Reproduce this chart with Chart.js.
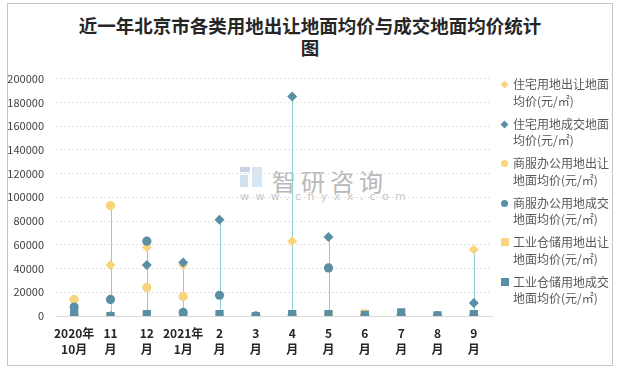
<!DOCTYPE html>
<html>
<head>
<meta charset="utf-8">
<script src="https://cdn.jsdelivr.net/npm/chart.js@4/dist/chart.umd.min.js"></script>
<style>
  body { margin: 0; background: #fff; font-family: "Noto Sans CJK SC", sans-serif; }
  #wrap { position: relative; width: 619px; height: 370px; overflow: hidden; }
  #frame { position: absolute; left: 7px; top: 3px; width: 604px; height: 361px; border: 1px solid #c4c4c4; }
  #title { position: absolute; left: 7px; width: 606px; top: 14px; text-align: center;
           font-size: 18.5px; font-weight: bold; line-height: 22px; color: #262626; }
  #mark { position: absolute; left: 240px; top: 163px; color: #b8b8b8; }
  #mark .logo { position: absolute; left: 0; top: 4px; width: 22px; height: 20px; }
  #mark .logo i { position: absolute; background: #c9d3e3; }
  #mark .big { position: absolute; left: 32px; top: 0; font-size: 24px; letter-spacing: 5px; white-space: nowrap; }
  #mark .url { position: absolute; left: 0; top: 27px; font-size: 11px; letter-spacing: 6.4px; white-space: nowrap; font-family: "DejaVu Sans", sans-serif; color: #c4c4c4; }
  #chart { position: absolute; left: 0; top: 60px; }
  #legend { position: absolute; left: 497px; top: 76px; width: 112px; }
  .item { position: relative; height: 39.6px; padding-left: 16px; font-size: 12px; line-height: 16.5px; color: #595959; }
  .item .m { position: absolute; left: 4px; top: 5px; width: 7px; height: 7px; }
</style>
</head>
<body>
<div id="wrap">
  <div id="frame"></div>
  <div id="title">近一年北京市各类用地出让地面均价与成交地面均价统计<br>图</div>
  <div id="mark">
    <div class="logo"><i style="left:0;top:0;width:10px;height:5px"></i><i style="left:0;top:8px;width:8px;height:12px;background:#cfe0ef"></i><i style="left:12px;top:0;width:10px;height:20px;background:#d6e6f2"></i></div>
    <div class="big">智研咨询</div>
    <div class="url">www.chyxx.com</div>
  </div>
  <canvas id="chart" width="500" height="300"></canvas>
  <div id="legend"></div>
</div>
<script>
const categories = [['2020年', '10月'], ['11', '月'], ['12', '月'], ['2021年', '1月'], ['2', '月'], ['3', '月'],
                    ['4', '月'], ['5', '月'], ['6', '月'], ['7', '月'], ['8', '月'], ['9', '月']];
const seriesNames = ['住宅用地出让地面均价(元/㎡)', '住宅用地成交地面均价(元/㎡)', '商服办公用地出让地面均价(元/㎡)',
                     '商服办公用地成交地面均价(元/㎡)', '工业仓储用地出让地面均价(元/㎡)', '工业仓储用地成交地面均价(元/㎡)'];
const residentialSale = [0, 43000, 58000, 43000, 0, 0, 63000, 0, 0, 0, 0, 56000];
const residentialDeal = [0, 0, 43000, 45000, 81000, 0, 185000, 66500, 0, 0, 0, 11000];
const commercialSale = [14000, 93000, 24000, 16500, 0, 0, 0, 0, 0, 0, 0, 0];
const commercialDeal = [7500, 14000, 63000, 3000, 17500, 0, 0, 40500, 0, 0, 0, 0];
const industrialSale = [0, 0, 0, 0, 0, 0, 0, 0, 2000, 0, 0, 0];
const industrialDeal = [2000, 0, 1500, 0, 1500, 0, 1500, 1500, 1000, 3000, 500, 1500];
const yTicks = [0, 20000, 40000, 60000, 80000, 100000, 120000, 140000, 160000, 180000, 200000];

const yellow = '#F9D47C';
const blue = '#5A8EA5';
const allSeries = [residentialSale, residentialDeal, commercialSale, commercialDeal, industrialSale, industrialDeal];
const styles = [
  { color: yellow, shape: 'rectRot', r: 5 },
  { color: blue, shape: 'rectRot', r: 5 },
  { color: yellow, shape: 'circle', r: 4.6 },
  { color: blue, shape: 'circle', r: 4.6 },
  { color: yellow, shape: 'rect', r: 5.8 },
  { color: blue, shape: 'rect', r: 5.8 }
];

// high-low line for every month, from lowest to highest value
const hiLoLines = {
  id: 'hiLoLines',
  beforeDatasetsDraw(chart) {
    const { ctx, scales: { x, y } } = chart;
    ctx.save();
    ctx.strokeStyle = '#8CCFD0';
    ctx.lineWidth = 1;
    categories.forEach((c, i) => {
      const vals = allSeries.map(s => s[i]);
      const px = Math.round(x.getPixelForValue(i)) + 0.5;
      ctx.beginPath();
      ctx.moveTo(px, y.getPixelForValue(Math.max(...vals)));
      ctx.lineTo(px, y.getPixelForValue(Math.min(...vals)));
      ctx.stroke();
    });
    ctx.restore();
  }
};

new Chart(document.getElementById('chart'), {
  type: 'line',
  data: {
    labels: categories,
    datasets: allSeries.map((data, i) => ({
      label: seriesNames[i],
      data: data,
      showLine: false,
      order: 6 - i,
      pointStyle: styles[i].shape,
      pointRadius: styles[i].r,
      pointHoverRadius: styles[i].r,
      pointBackgroundColor: styles[i].color,
      pointBorderColor: styles[i].color,
      pointBorderWidth: 0
    }))
  },
  options: {
    responsive: false,
    animation: false,
    layout: { padding: { top: 13, right: 8, bottom: 0, left: 0 } },
    plugins: { legend: { display: false }, tooltip: { enabled: false } },
    scales: {
      x: {
        offset: true,
        afterFit: s => { s.height = 44; },
        grid: { display: false, drawTicks: false },
        border: { color: '#d9d9d9' },
        ticks: { padding: 9, maxRotation: 0, autoSkip: false, color: '#262626',
                 font: { family: 'Noto Sans CJK SC', size: 12, weight: 'bold', lineHeight: '16px' } }
      },
      y: {
        min: 0,
        max: 200000,
        afterFit: s => { s.width = 56; },
        afterBuildTicks: s => { s.ticks = yTicks.map(v => ({ value: v })); },
        grid: { color: '#e0e0e0', drawTicks: false },
        border: { display: false, dash: [2, 2] },
        ticks: { padding: 12, color: '#404040', font: { family: 'Noto Sans CJK SC', size: 11 },
                 callback: v => String(v) }
      }
    }
  },
  plugins: [hiLoLines]
});

const legend = document.getElementById('legend');
seriesNames.forEach((name, i) => {
  const item = document.createElement('div');
  item.className = 'item';
  const m = document.createElement('span');
  m.className = 'm';
  m.style.background = styles[i].color;
  if (styles[i].shape === 'rectRot') { m.style.transform = 'rotate(45deg) scale(0.8)'; }
  if (styles[i].shape === 'circle') { m.style.borderRadius = '50%'; }
  if (styles[i].shape === 'rect') { m.style.width = '8px'; m.style.height = '8px'; m.style.top = '4px'; }
  item.appendChild(m);
  item.appendChild(document.createTextNode(name));
  legend.appendChild(item);
});
</script>
</body>
</html>
